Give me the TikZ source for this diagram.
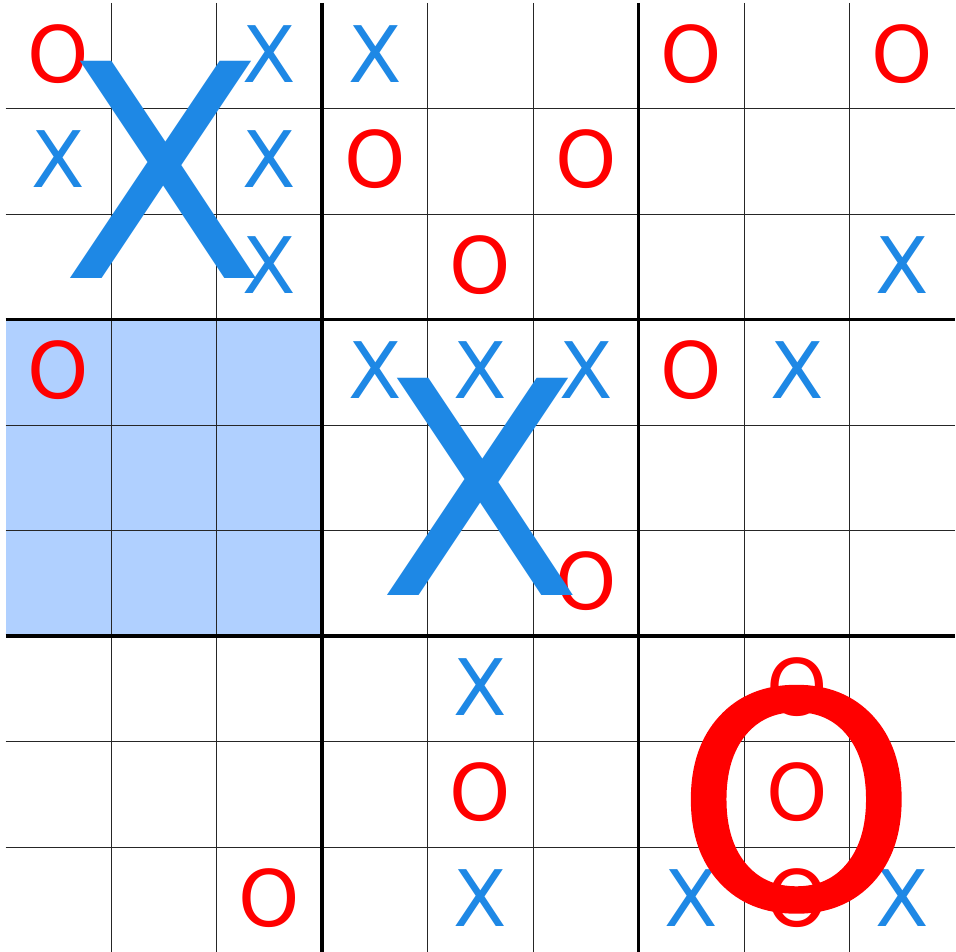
\documentclass[tikz,border=0pt]{standalone}
\usepackage{fontspec}
\setmainfont{DejaVu Sans}
\newfontfamily\bigmarkfont[FakeBold=1.2]{DejaVu Sans}
\definecolor{xblue}{HTML}{1E88E5}
\definecolor{ored}{HTML}{FF0000}
\definecolor{hl}{HTML}{B0D0FF}
\tikzset{
  thinline/.style={line width=0.9pt, black!85},
  thickline/.style={line width=3.6pt, black},
  marknode/.style={inner sep=0pt, outer sep=0pt, anchor=center},
  smallx/.style={marknode, text=xblue, font=\fontsize{78}{78}\selectfont},
  smallo/.style={marknode, text=ored, font=\fontsize{78}{78}\selectfont},
  bigx/.style={marknode, text=xblue, font=\fontsize{298}{298}\selectfont},
  bigo/.style={marknode, text=ored, font=\bigmarkfont\fontsize{298}{298}\selectfont},
}
\begin{document}
\begin{tikzpicture}[x=1pt,y=-1pt]
\useasboundingbox (0,0) rectangle (956,952);
\fill[white] (0,0) rectangle (956,952);
% highlighted big cell
\fill[hl] (5.5,319.5) rectangle (322,636);
% thin grid lines
\foreach \i in {1,2,4,5,7,8} {
  \draw[thinline] ({5.5+105.5*\i},3) -- ({5.5+105.5*\i},952.5);
  \draw[thinline] (5.5,{3+105.5*\i}) -- (955,{3+105.5*\i});
}
% thick grid lines
\foreach \i in {3,6} {
  \draw[thickline] ({5.5+105.5*\i},3) -- ({5.5+105.5*\i},952.5);
  \draw[thickline] (5.5,{3+105.5*\i}) -- (955,{3+105.5*\i});
}
% small marks
\foreach \r/\c/\m in {0/0/o,0/2/x,0/3/x,0/6/o,0/8/o,
                      1/0/x,1/2/x,1/3/o,1/5/o,
                      2/2/x,2/4/o,2/8/x,
                      3/0/o,3/3/x,3/4/x,3/5/x,3/6/o,3/7/x,
                      5/5/o,
                      6/4/x,6/7/o,
                      7/4/o,7/7/o,
                      8/2/o,8/4/x,8/6/x,8/7/o,8/8/x} {
  \if\m x
    \node[smallx] (s\r\c) at ({58.25+105.5*\c},{53.75+105.5*\r}) {X};
  \else
    \node[smallo] (s\r\c) at ({58.25+105.5*\c},{53.75+105.5*\r}) {O};
  \fi
}
% big marks
\node[bigx] (b00) at (163.75,170.25) {X};
\node[bigx] (b11) at (480.25,486.75) {X};
\node[bigo, xscale=1.03] (b22) at (796.25,799.25) {O};
\end{tikzpicture}
\end{document}
